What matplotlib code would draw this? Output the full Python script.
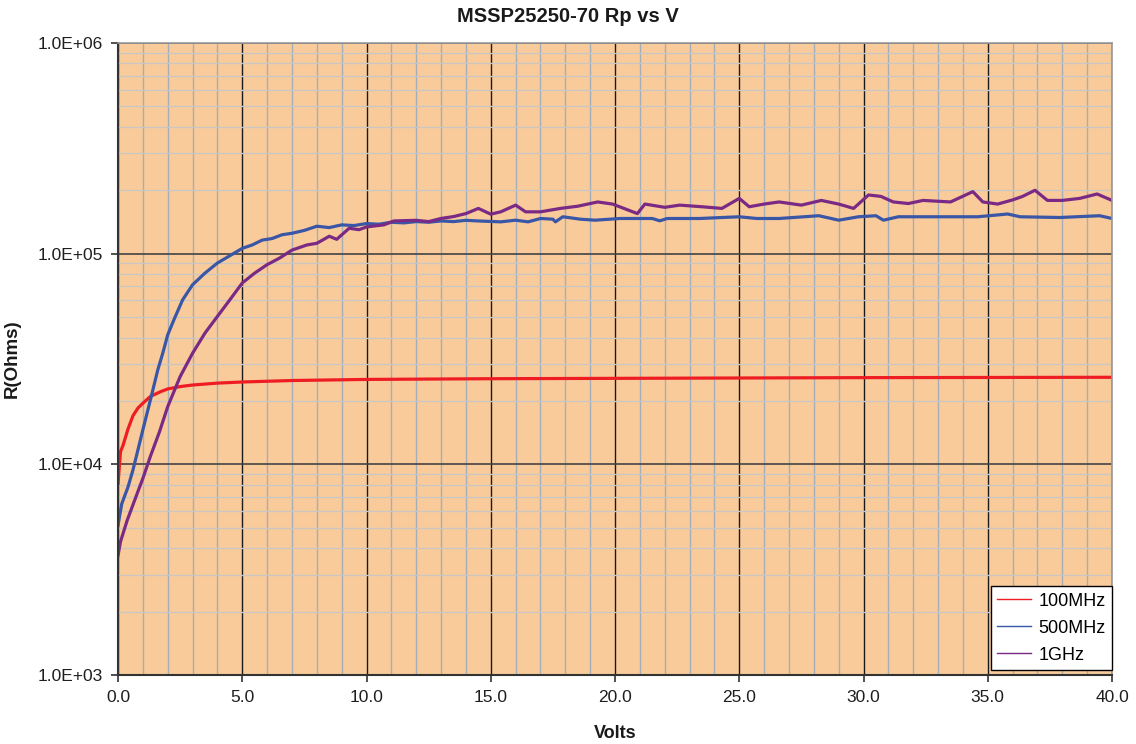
import matplotlib.pyplot as plt
from matplotlib.ticker import MultipleLocator, LogLocator, FuncFormatter, NullFormatter

plt.rcParams['font.family'] = ['Liberation Sans', 'DejaVu Sans']

# 100MHz
volts_100 = [0.0, 0.1, 0.2, 0.4, 0.6, 0.8, 1.0, 1.3, 1.7, 2.0, 2.5, 3.0, 4.0, 5.0,
             7.0, 10.0, 15.0, 20.0, 25.0, 30.0, 35.0, 40.0]
rp_100 = [8100, 11500, 12300, 14700, 17000, 18500, 19500, 21000, 22100, 22800, 23400,
          23800, 24300, 24600, 25000, 25300, 25500, 25600, 25700, 25800, 25850, 25900]

# 500MHz
volts_500 = [0.0, 0.15, 0.4, 0.6, 0.8, 1.0, 1.2, 1.4, 1.6, 1.8, 2.0, 2.25, 2.6, 3.0,
             3.5, 4.0, 4.5, 5.0, 5.4, 5.8, 6.2, 6.6, 7.0, 7.5, 8.0, 8.5, 9.0, 9.5,
             10.0, 10.5, 11.0, 11.5, 12.0, 12.5, 13.0, 13.5, 14.0, 14.5, 15.4, 16.0,
             16.5, 17.0, 17.5, 17.6, 17.9, 18.6, 19.2, 20.2, 21.5, 21.8, 22.1, 23.4,
             25.0, 25.7, 26.6, 28.2, 28.7, 29.0, 29.8, 30.5, 30.8, 31.4, 33.0, 34.6,
             35.8, 36.3, 37.9, 39.5, 40.0]
rp_500 = [5150, 6500, 7800, 9400, 11700, 14600, 18100, 22500, 28100, 33700, 41200,
          48600, 60400, 71200, 80900, 90300, 97800, 106000, 110000, 116000, 118000,
          123000, 125000, 129000, 135000, 133000, 137000, 136000, 139000, 138000,
          141000, 140000, 142000, 141000, 143000, 142000, 144000, 143000, 141600,
          144200, 141600, 146900, 145800, 141600, 149700, 145800, 144200, 146900,
          146900, 143200, 146900, 146900, 149700, 146900, 146900, 151400, 146900,
          144200, 149700, 151400, 144200, 149700, 149700, 149700, 154300, 149700,
          148500, 151400, 146900]

# 1GHz
volts_1g = [0.0, 0.1, 0.37, 0.77, 1.0, 1.3, 1.67, 2.0, 2.5, 3.0, 3.5, 4.0, 4.5, 5.0,
            5.5, 6.0, 6.5, 7.0, 7.6, 8.0, 8.5, 8.8, 9.3, 9.7, 10.0, 10.7, 11.1, 12.0,
            12.5, 13.0, 13.5, 14.0, 14.5, 15.0, 15.4, 16.0, 16.4, 17.0, 17.8, 18.5,
            19.3, 19.9, 20.9, 21.2, 22.0, 22.6, 23.5, 24.3, 25.0, 25.4, 26.0, 26.6,
            27.5, 28.3, 29.0, 29.6, 30.2, 30.7, 31.2, 31.8, 32.4, 33.5, 34.4, 34.8,
            35.4, 36.0, 36.4, 36.9, 37.4, 38.0, 38.7, 39.4, 40.0]
rp_1g = [3700, 4300, 5430, 7270, 8580, 10900, 14300, 18800, 26100, 33700, 42000,
         50400, 60400, 72600, 80900, 88700, 95300, 104000, 110000, 112000, 121000,
         117000, 132000, 130000, 134000, 137000, 143000, 144000, 142000, 147000,
         150000, 155000, 164000, 154000, 158000, 170000, 158000, 158000, 164000,
         168000, 176000, 172000, 155000, 172000, 166000, 170000, 167000, 164000,
         183000, 167000, 172000, 176000, 170000, 179000, 172000, 164000, 190000,
         187000, 176000, 173000, 179000, 176000, 197000, 176000, 172000, 180000,
         187000, 200000, 179000, 179000, 183000, 192000, 179000]

fig = plt.figure(figsize=(11.36, 7.44), dpi=100)
ax = fig.add_axes([0.1039, 0.0927, 0.875, 0.8495])
ax.set_facecolor('#FACB9A')

ax.plot(volts_100, rp_100, color='#EE1D24', lw=2.3, label='100MHz')
ax.plot(volts_500, rp_500, color='#3A56A6', lw=2.3, label='500MHz')
ax.plot(volts_1g, rp_1g, color='#7A2A84', lw=2.3, label='1GHz')

ax.set_yscale('log')
ax.set_xlim(0, 40)
ax.set_ylim(1e3, 1e6)

ax.xaxis.set_major_locator(MultipleLocator(5))
ax.xaxis.set_minor_locator(MultipleLocator(1))
ax.xaxis.set_major_formatter(FuncFormatter(lambda v, p: f"{v:.1f}"))
ax.yaxis.set_major_locator(LogLocator(base=10))
ax.yaxis.set_minor_locator(LogLocator(base=10, subs=range(2, 10)))
ax.yaxis.set_major_formatter(FuncFormatter(lambda v, p: f"{v:.1E}"))
ax.yaxis.set_minor_formatter(NullFormatter())

ax.grid(which='minor', axis='x', color='#A4ADB8', lw=1.0)
ax.grid(which='minor', axis='y', color='#CBC6C2', lw=1.0)
ax.grid(which='major', axis='x', color='#1A1A1A', lw=1.0)
ax.grid(which='major', axis='y', color='#444444', lw=1.2)
ax.set_axisbelow(True)

ax.tick_params(which='major', direction='out', length=5, width=1.2, color='#333333',
               labelsize=12.5, labelcolor='#1E1E1E', pad=6)
ax.tick_params(which='minor', length=0)
for side in ['left', 'bottom']:
    ax.spines[side].set_color('#333333')
    ax.spines[side].set_linewidth(1.5)
for side in ['top', 'right']:
    ax.spines[side].set_color('#999999')
    ax.spines[side].set_linewidth(1.2)

fig.text(0.5, 0.978, 'MSSP25250-70 Rp vs V', fontsize=14.5, fontweight='bold',
         ha='center', va='center', color='#1A1A1A')
ax.set_xlabel('Volts', fontsize=13, fontweight='bold', labelpad=14, color='#1A1A1A')
ax.set_ylabel('R(Ohms)', fontsize=13.5, fontweight='bold', labelpad=12, color='#1A1A1A')

leg = ax.legend(loc='lower right', bbox_to_anchor=(1.0, 0.008), fontsize=13,
                fancybox=False, framealpha=1, edgecolor='black', borderaxespad=0,
                handlelength=1.9, handletextpad=0.4, borderpad=0.35,
                labelspacing=0.55)
for line in leg.get_lines():
    line.set_linewidth(1.0)
leg.get_frame().set_linewidth(1.0)

fig.savefig('out.png', dpi=100)
